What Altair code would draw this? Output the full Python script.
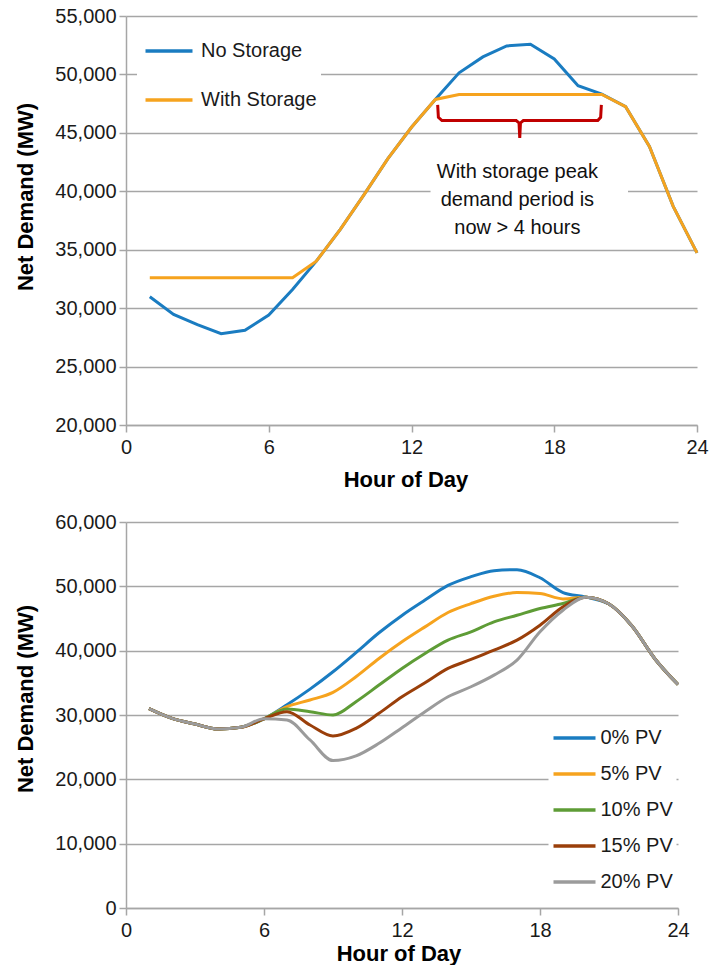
import altair as alt
import pandas as pd

FONT = "Liberation Sans"

# ---------------- data ----------------
hours = list(range(1, 25))

no_storage = [30980, 29470, 28590, 27820, 28100, 29410, 31600, 34020, 36720, 39700, 42780, 45480,
              47860, 50140, 51500, 52440, 52580, 51330, 49030, 48320, 47240, 43830, 38710, 34730]
with_storage = [32600, 32600, 32600, 32600, 32600, 32600, 32600, 34020, 36720, 39700, 42780, 45480,
                47860, 48290, 48290, 48290, 48290, 48290, 48290, 48290, 47240, 43830, 38710, 34730]
top_series = ["No Storage", "With Storage"]

pv_labels = ["0% PV", "5% PV", "10% PV", "15% PV", "20% PV"]
pv_0 = [30980, 29470, 28590, 27820, 28100, 29410, 31600, 34020, 36720, 39700, 42780, 45480,
        47860, 50140, 51500, 52440, 52580, 51330, 49030, 48320, 47240, 43830, 38710, 34730]
pv_5 = [30980, 29470, 28590, 27820, 28100, 29410, 31290, 32330, 33520, 35950, 38790, 41380,
        43700, 45930, 47320, 48460, 49030, 48880, 48050, 48320, 47240, 43830, 38710, 34730]
pv_10 = [30980, 29470, 28590, 27820, 28100, 29410, 30930, 30520, 30000, 32070, 34650, 37240,
         39570, 41640, 42930, 44480, 45510, 46550, 47320, 48320, 47240, 43830, 38710, 34730]
pv_15 = [30980, 29470, 28590, 27820, 28100, 29410, 30520, 28450, 26740, 27930, 30260, 32840,
         35010, 37240, 38630, 40080, 41640, 43960, 46810, 48320, 47240, 43830, 38710, 34730]
pv_20 = [30980, 29470, 28590, 27820, 28100, 29410, 29220, 26120, 22910, 23640, 25600, 28030,
         30520, 32840, 34390, 36200, 38530, 42930, 46290, 48320, 47240, 43830, 38710, 34730]

# curly bracket annotation (in data units: hour, MW)
bracket_hour = [13.10, 13.13, 13.28, 16.40, 16.52, 16.55, 16.58, 16.70, 19.83, 19.95, 19.98]
bracket_mw = [47400, 46330, 46050, 46050, 45850, 44570, 45850, 46050, 46050, 46330, 47400]

note_lines = ["With storage peak", "demand period is", "now > 4 hours"]
note_hour = [16.45]
note_mw = [41670]
note_box_hour = [12.8, 21.1]
note_box_mw = [35600, 43800]

x_ticks = [0, 6, 12, 18, 24]
top_y_ticks = [20000, 25000, 30000, 35000, 40000, 45000, 50000, 55000]
bot_y_ticks = [0, 10000, 20000, 30000, 40000, 50000, 60000]

top_colors = ["#1A7CC1", "#F6A31E"]
pv_colors = ["#1A7CC1", "#F6A31E", "#5E9C36", "#9A3F0A", "#9B9B9B"]

# ---------------- tables ----------------
top_df = pd.DataFrame({
    "hour": hours * 2,
    "mw": no_storage + with_storage,
    "series": [top_series[0]] * 24 + [top_series[1]] * 24,
})
pv_values = [pv_0, pv_5, pv_10, pv_15, pv_20]
bot_df = pd.DataFrame({
    "hour": hours * 5,
    "mw": sum(pv_values, []),
    "series": sum([[lab] * 24 for lab in pv_labels], []),
})
bracket_df = pd.DataFrame({"hour": bracket_hour, "mw": bracket_mw, "i": list(range(len(bracket_hour)))})
note_df = pd.DataFrame({"hour": note_hour, "mw": note_mw, "txt": [note_lines]})
box_df = pd.DataFrame({"h1": [note_box_hour[0]], "h2": [note_box_hour[1]],
                       "m1": [note_box_mw[0]], "m2": [note_box_mw[1]]})

TOP_W, TOP_H = 571, 409
BOT_W, BOT_H = 552, 386

# ---------------- top chart ----------------
x_top = alt.X("hour:Q", scale=alt.Scale(domain=[0, 24], nice=False),
              axis=alt.Axis(values=x_ticks, grid=False, title="Hour of Day",
                            labelFlush=False, labelPadding=5, titlePadding=12,
                            titleX=TOP_W / 2 - 6))
y_top = alt.Y("mw:Q", scale=alt.Scale(domain=[20000, 55000], nice=False),
              axis=alt.Axis(values=top_y_ticks, format=",.0f", grid=True, title="Net Demand (MW)",
                            labelPadding=3, titlePadding=17, titleY=180.5))

box = alt.Chart(box_df).mark_rect(color="white").encode(
    x=alt.X("h1:Q", scale=alt.Scale(domain=[0, 24], nice=False)), x2="h2:Q",
    y=alt.Y("m1:Q", scale=alt.Scale(domain=[20000, 55000], nice=False)), y2="m2:Q")

top_lines = alt.Chart(top_df).mark_line(strokeWidth=3).encode(
    x=x_top, y=y_top,
    color=alt.Color("series:N",
                    scale=alt.Scale(domain=top_series, range=top_colors),
                    sort=top_series,
                    legend=alt.Legend(title=None, orient="none", legendX=11, legendY=21,
                                      symbolType="M-4,0L4,0", symbolSize=138,
                                      symbolOffset=18, symbolStrokeWidth=3.5,
                                      labelFontSize=20, labelFont=FONT, labelColor="#1a1a1a",
                                      labelOffset=22, fillColor="white", padding=4,
                                      rowPadding=29)),
)

bracket = alt.Chart(bracket_df).mark_line(color="#C00000", strokeWidth=3).encode(
    x="hour:Q", y="mw:Q", order="i:Q")

note = alt.Chart(note_df).mark_text(fontSize=20, font=FONT, color="#111111",
                                    lineHeight=28, align="center", baseline="middle").encode(
    x="hour:Q", y="mw:Q", text="txt")

top = alt.layer(box, top_lines, bracket, note).properties(width=TOP_W, height=TOP_H)

# ---------------- bottom chart ----------------
x_bot = alt.X("hour:Q", scale=alt.Scale(domain=[0, 24], nice=False),
              axis=alt.Axis(values=x_ticks, grid=False, title="Hour of Day",
                            labelFlush=False, labelPadding=5, titlePadding=3,
                            titleX=BOT_W / 2 - 3.5))
y_bot = alt.Y("mw:Q", scale=alt.Scale(domain=[0, 60000], nice=False),
              axis=alt.Axis(values=bot_y_ticks, format=",.0f", grid=True, title="Net Demand (MW)",
                            labelPadding=3, titlePadding=17, titleY=176.5))

bottom = alt.Chart(bot_df).mark_line(strokeWidth=3, interpolate="monotone").encode(
    x=x_bot, y=y_bot,
    color=alt.Color("series:N",
                    scale=alt.Scale(domain=pv_labels, range=pv_colors),
                    sort=pv_labels,
                    legend=alt.Legend(title=None, orient="none", legendX=422.5, legendY=195,
                                      symbolType="stroke", symbolSize=1764,
                                      symbolStrokeWidth=3.5, labelFontSize=20,
                                      labelFont=FONT, labelColor="#1a1a1a", labelOffset=3,
                                      fillColor="white", padding=3, clipHeight=36,
                                      rowPadding=0)),
).properties(width=BOT_W, height=BOT_H)

chart = alt.vconcat(top, bottom, spacing=20).resolve_scale(
    color="independent", x="independent", y="independent"
).properties(
    padding={"left": 6, "top": -3, "right": 0, "bottom": 0}
).configure_axis(
    labelFont=FONT, labelFontSize=20, labelColor="#1a1a1a",
    titleFont=FONT, titleFontSize=22, titleFontWeight="bold", titleColor="#000000",
    domainColor="#A6A6A6", domainWidth=1.5,
    tickColor="#A6A6A6", tickWidth=1.5, tickSize=7,
    gridColor="#A6A6A6", gridWidth=1.5,
).configure_view(stroke="transparent")

chart.save("out.html", embed_options={"renderer": "svg", "actions": False})
